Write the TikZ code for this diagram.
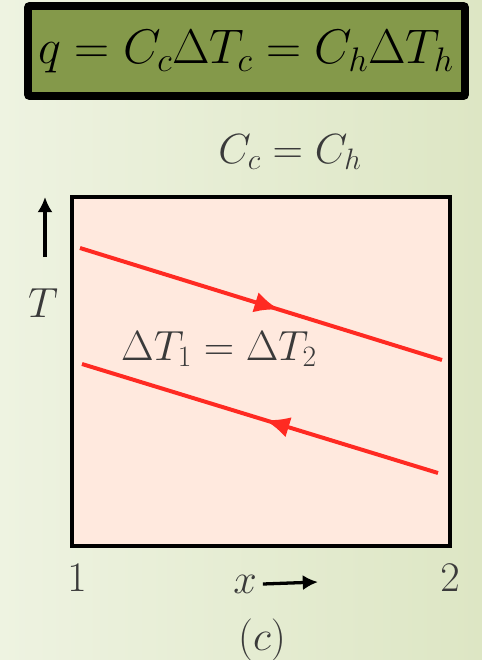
\RequirePackage{fix-cm}
\documentclass[tikz,border=0pt]{standalone}
\usepackage{fontspec}
\usepackage{amsmath}
\usetikzlibrary{arrows.meta,decorations.markings,positioning}
\definecolor{bgleft}{HTML}{EEF3E1}
\definecolor{bgright}{HTML}{DDE6C4}
\definecolor{olive}{HTML}{84994A}
\definecolor{plotpink}{HTML}{FFE9DE}
\definecolor{hotred}{HTML}{FF2A22}
\definecolor{labelgray}{HTML}{3A3A3A}
\tikzset{
  lbl/.style={text=labelgray, inner sep=0pt, font=\fontsize{36}{40}\selectfont},
  stream/.style={hotred, line width=3.4pt},
  flowfwd/.style={postaction={decorate}, decoration={markings,
    mark=at position #1 with {\arrow{Latex[length=21pt,width=18pt]}}}},
  flowback/.style={postaction={decorate}, decoration={markings,
    mark=at position #1 with {\arrow{Latex[length=21pt,width=18pt,reversed]}}}},
}
\begin{document}
\begin{tikzpicture}[x=0.03cm, y=-0.03cm]
  \useasboundingbox (0,0) rectangle (482,660);
  \shade[left color=bgleft, right color=bgright] (0,0) rectangle (482,660);

  % energy balance box
  \draw[line width=6.8pt, rounded corners=1.7pt, fill=olive] (28,6) rectangle (465,96);
  \node[inner sep=0pt, font=\fontsize{41.5}{44}\selectfont] (balance) at (246,52)
    {$q = C_c\Delta T_c = C_h\Delta T_h$};

  \node[lbl] (ratio) at (290,152) {$C_c = C_h$};

  % plot frame
  \draw[line width=4.25pt, fill=plotpink] (72,197) rectangle (450,546);

  % hot and cold streams
  \coordinate (hotin) at (80,248);
  \coordinate (hotout) at (442,360);
  \coordinate (coldout) at (82,364);
  \coordinate (coldin) at (438,473);
  \draw[stream, flowfwd=0.55] (hotin) -- (hotout);
  \draw[stream, flowback=0.58] (coldout) -- (coldin);
  \node[lbl] (dtlabel) at (219,349) {$\Delta T_1 = \Delta T_2$};

  % axes
  \coordinate (tbase) at (45,257);
  \coordinate (ttip) at (45,197);
  \draw[line width=2.8pt, -{Latex[length=13pt,width=13pt]}] (tbase) -- (ttip);
  \node[lbl] (tlabel) at (43,303) {$T$};
  \node[lbl] (xone) at (77,578) {$1$};
  \node[lbl] (xtwo) at (450,578) {$2$};
  \node[lbl] (xlabel) at (245,584) {$x$};
  \coordinate (xtip) at (318,582);
  \draw[line width=2.8pt, -{Latex[length=13pt,width=13pt]}] ([xshift=5pt]xlabel.east) -- (xtip);
  \node[lbl] (caption) at (262,640) {$(c)$};
\end{tikzpicture}
\end{document}
